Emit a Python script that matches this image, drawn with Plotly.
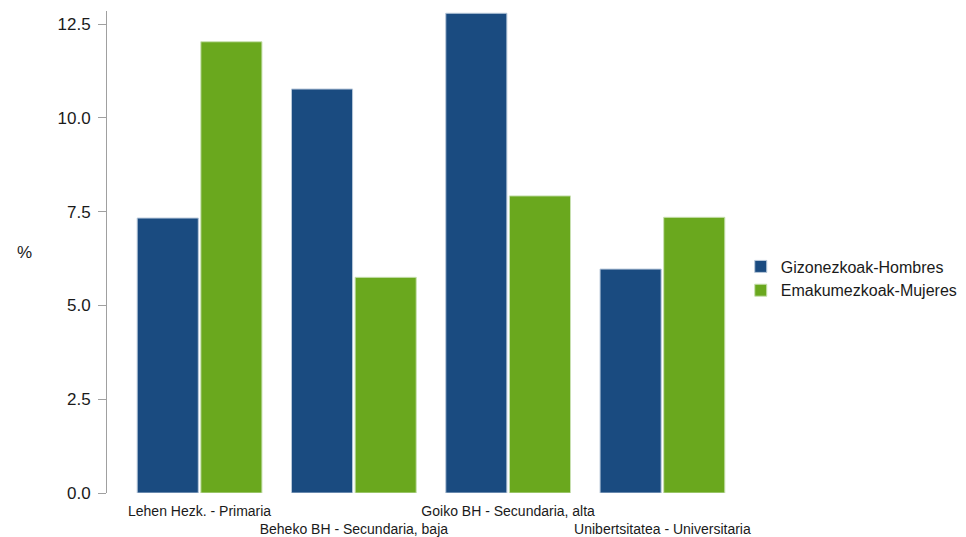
import plotly.graph_objects as go

categories = ["Lehen Hezk. - Primaria", "Beheko BH - Secundaria, baja",
              "Goiko BH - Secundaria, alta", "Unibertsitatea - Universitaria"]
tick_labels = ["Lehen Hezk. - Primaria", "<br>Beheko BH - Secundaria, baja",
               "Goiko BH - Secundaria, alta", "<br>Unibertsitatea - Universitaria"]
hombres = [7.33, 10.77, 12.79, 5.97]
mujeres = [12.03, 5.75, 7.92, 7.35]
y_ticks = [0, 2.5, 5, 7.5, 10, 12.5]
y_tick_text = ["0.0", "2.5", "5.0", "7.5", "10.0", "12.5"]

fig = go.Figure()
fig.add_trace(go.Bar(x=categories, y=hombres, name="Gizonezkoak-Hombres",
                     marker=dict(color="#1A4B80", line=dict(color="#B8C8DA", width=1))))
fig.add_trace(go.Bar(x=categories, y=mujeres, name="Emakumezkoak-Mujeres",
                     marker=dict(color="#6AA81E", line=dict(color="#C8E0B0", width=1))))

fig.update_layout(
    width=958, height=529,
    margin=dict(l=99, r=211, t=3, b=44, autoexpand=False),
    paper_bgcolor="white", plot_bgcolor="white",
    barmode="group", bargap=0.175, bargroupgap=0.04,
    font=dict(family="Liberation Sans, Arial, sans-serif", color="#1a1a1a"),
    showlegend=True,
    legend=dict(x=0.978, xanchor="left", y=0.445, yanchor="middle",
                font=dict(size=16), itemwidth=30, tracegroupgap=2),
    annotations=[dict(text="%", xref="paper", yref="paper", x=-0.127, y=0.5,
                      xanchor="center", yanchor="middle", showarrow=False,
                      font=dict(size=17))],
)
fig.update_xaxes(
    type="category", range=[-0.6, 3.6], tickmode="array",
    tickvals=categories, ticktext=tick_labels, tickangle=0, automargin=False,
    tickfont=dict(size=14), showline=False, showgrid=False, ticks="",
    ticklabelstandoff=8,
)
fig.update_yaxes(
    range=[0, 12.85], tickmode="array", tickvals=y_ticks, ticktext=y_tick_text,
    tickfont=dict(size=17), showgrid=False, zeroline=False, automargin=False,
    showline=True, linecolor="#A0A0A0", linewidth=1,
    ticks="outside", ticklen=8, tickcolor="#A0A0A0", ticklabelstandoff=4,
)

fig.write_html("out.html")
